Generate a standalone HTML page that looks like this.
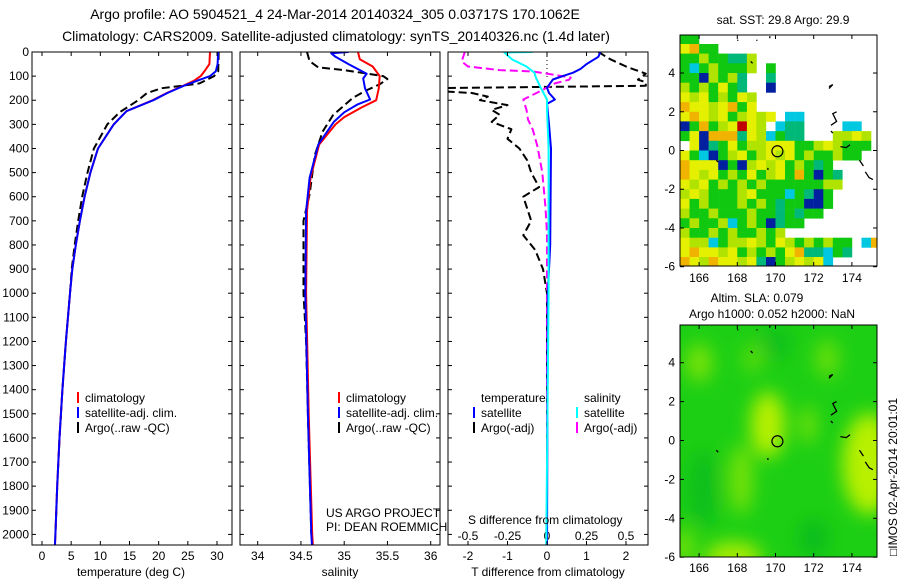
<!DOCTYPE html>
<html><head><meta charset="utf-8"><style>
body{margin:0;background:#fff}
svg{display:block;font-family:"Liberation Sans",sans-serif}
</style></head><body>
<svg id="fig" width="900" height="580" viewBox="0 0 900 580">
<defs>
<clipPath id="c1"><rect x="32" y="52" width="200" height="493"/></clipPath>
<clipPath id="c2"><rect x="240" y="52" width="200" height="493"/></clipPath>
<clipPath id="c3"><rect x="448" y="52" width="200" height="493"/></clipPath>
<clipPath id="cm1"><rect x="680" y="35" width="197" height="231"/></clipPath>
<clipPath id="cm2"><rect x="680" y="325" width="197" height="232"/></clipPath>
<filter id="blur" x="-50%" y="-50%" width="200%" height="200%"><feGaussianBlur stdDeviation="9"/></filter>
</defs>
<text x="335" y="19" font-size="14" text-anchor="middle">Argo profile: AO 5904521_4 24-Mar-2014 20140324_305 0.03717S 170.1062E</text>
<text x="336" y="41" font-size="14" text-anchor="middle">Climatology: CARS2009. Satellite-adjusted climatology: synTS_20140326.nc (1.4d later)</text>
<g id="axes"></g>
<g id="p1" clip-path="url(#c1)"></g>
<g id="p2" clip-path="url(#c2)"></g>
<g id="p3" clip-path="url(#c3)"></g>
<g id="m1" clip-path="url(#cm1)"></g>
<g id="m2" clip-path="url(#cm2)"></g>
<g id="frames"></g>
<g id="legends">
 <g font-size="12">
  <line x1="78" y1="392" x2="78" y2="403" stroke="#f00" stroke-width="2"/><text x="85" y="402">climatology</text>
  <line x1="78" y1="407" x2="78" y2="418" stroke="#00f" stroke-width="2"/><text x="85" y="417">satellite-adj. clim.</text>
  <line x1="78" y1="422" x2="78" y2="433" stroke="#000" stroke-width="2"/><text x="85" y="432">Argo(..raw -QC)</text>
 </g>
 <g font-size="12">
  <line x1="339" y1="392" x2="339" y2="403" stroke="#f00" stroke-width="2"/><text x="346" y="402">climatology</text>
  <line x1="339" y1="407" x2="339" y2="418" stroke="#00f" stroke-width="2"/><text x="346" y="417">satellite-adj. clim.</text>
  <line x1="339" y1="422" x2="339" y2="433" stroke="#000" stroke-width="2"/><text x="346" y="432">Argo(..raw -QC)</text>
 </g>
 <g font-size="12">
  <text x="481" y="402">temperature</text><text x="584" y="402">salinity</text>
  <line x1="474" y1="407" x2="474" y2="418" stroke="#00f" stroke-width="2"/><text x="481" y="417">satellite</text>
  <line x1="474" y1="422" x2="474" y2="433" stroke="#000" stroke-width="2"/><text x="481" y="432">Argo(-adj)</text>
  <line x1="577" y1="407" x2="577" y2="418" stroke="#0ff" stroke-width="2"/><text x="584" y="417">satellite</text>
  <line x1="577" y1="422" x2="577" y2="433" stroke="#f0f" stroke-width="2"/><text x="584" y="432">Argo(-adj)</text>
 </g>
 <text x="326" y="517" font-size="12">US ARGO PROJECT</text>
 <text x="326" y="531" font-size="12">PI: DEAN ROEMMICH</text>
 <text x="468" y="524" font-size="12">S difference from climatology</text>
 <text x="131" y="576" font-size="12" text-anchor="middle">temperature (deg C)</text>
 <text x="340" y="576" font-size="12" text-anchor="middle">salinity</text>
 <text x="548" y="576" font-size="12" text-anchor="middle">T difference from climatology</text>
 <text x="783" y="24" font-size="12" text-anchor="middle">sat. SST: 29.8 Argo: 29.9</text>
 <text x="757" y="302" font-size="12" text-anchor="middle">Altim. SLA: 0.079</text>
 <text x="772" y="318" font-size="12" text-anchor="middle">Argo h1000: 0.052 h2000: NaN</text>
 <text transform="translate(897,556) rotate(-90)" font-size="12">□IMOS 02-Apr-2014 20:01:01</text>
</g>
</svg>
<script>
// ---- profile data (depth m : value) ----
const depthT = [0,50,80,100,120,140,170,200,245,300,400,500,600,700,800,900,1000,1200,1400,1600,1800,2000,2060];
const tempSat = [30.2,30.1,29.8,28.8,26.5,24.3,21.5,19.1,14.5,12.3,9.6,8.3,7.3,6.5,5.8,5.2,4.8,4.1,3.5,3.0,2.6,2.3,2.2];
const depthTC = [0,50,75,100,120,140,170,200,245,300,400,500,600,700,800,900,1000,1200,1400,1600,1800,2000,2060];
const tempClim = [28.8,28.7,28.0,27.2,26.0,24.2,21.4,19.0,14.5,12.3,9.6,8.3,7.3,6.5,5.8,5.2,4.8,4.1,3.5,3.0,2.6,2.3,2.2];
const depthTA = [0,80,100,130,140,150,170,200,250,300,400,500,600,700,800,900,1000,1200,1400,1600,1800,2000];
const tempArgo = [30.3,30.2,29.5,27.0,24.0,20.5,18.0,16.5,13.3,11.2,8.9,7.8,6.9,6.2,5.6,5.1,4.8,4.1,3.5,3.0,2.6,2.3];

const depthS = [0,5,20,50,90,110,150,197,218,250,290,384,522,660,1000,1500,2000,2060];
const salSat = [35.05,34.85,34.9,35.05,35.26,35.22,35.24,35.3,35.15,35.0,34.88,34.70,34.6,34.56,34.55,34.58,34.62,34.63];
const depthSC = [0,30,60,100,150,200,230,270,300,384,522,660,1000,1500,2000,2060];
const salClim = [35.16,35.18,35.33,35.41,35.40,35.37,35.2,35.0,34.9,34.71,34.61,34.57,34.56,34.59,34.63,34.64];
const depthSA = [0,38,64,75,100,112,134,160,190,262,330,428,590,700,1000,1200,1500,2000];
const salArgo = [34.57,34.6,34.7,35.0,35.45,35.5,35.41,35.25,35.1,34.87,34.75,34.66,34.6,34.53,34.53,34.56,34.58,34.62];

const depthDT = [0,20,50,70,86,100,114,148,170,197,215,300,400,800,1000,2060];
const dTsat = [1.35,1.3,1.0,0.85,0.66,0.4,0.15,0,0.05,0.2,0,0.05,0.1,0.08,0.02,0];
const depthDTA = [0,30,60,90,115,125,140,150,160,170,185,200,220,240,260,290,320,360,400,450,500,560,600,700,760,820,900,1000,2060];
const dTargo = [1.3,1.6,2.0,2.5,2.3,2.5,2.5,-3,-3,-1.9,-1.5,-1.7,-1.0,-1.4,-1.2,-1.4,-0.9,-1.0,-0.7,-0.5,-0.4,-0.2,-0.6,-0.4,-0.6,-0.3,-0.1,0,0];
const depthDS = [0,2,31,60,86,106,148,197,238,400,1000,2060];
const dSsat = [-0.09,-0.27,-0.22,-0.13,-0.08,-0.07,-0.04,0,0,0.01,0.01,-0.005];
const depthDSA = [0,39,60,75,81,95,106,115,130,168,197,240,280,322,392,500,640,750,2060];
const dSargo = [-0.52,-0.54,-0.5,-0.3,-0.09,0.05,0.15,0.14,0.05,-0.06,-0.15,-0.13,-0.12,-0.09,-0.06,-0.03,-0.01,0,0];

const depthTicks = [0,100,200,300,400,500,600,700,800,900,1000,1100,1200,1300,1400,1500,1600,1700,1800,1900,2000];
const tempTicks = [0,5,10,15,20,25,30];
const salTicks = [34,34.5,35,35.5,36];
const dTTicks = [-2,-1,0,1,2];
const dSTicks = [-0.5,-0.25,0,0.25,0.5];
const dSTickLabels = ['-0.5','-0.25','0','0.25','0.5'];

// ---- map data ----
const lonTicks = [166,168,170,172,174];
const latTicks = [4,2,0,-2,-4,-6];
const argoLon = [170.1];
const argoLat = [-0.04];
// SST grid: rows from lat 6 downward by 0.5, cols from lon 165 by 0.5
const sstRows = [
"GG...................",
"YOGG.................",
"GGLGGTTL.............",
"GCGLGGGL.G...........",
"GGBLGLT..T...........",
"LGLGYGT..B...........",
"YLYGLGYL.............",
"OYYLYOGY.............",
"YOYLYGLYLY.CC........",
"BGOGLYRYL.CTT....CC..",
"GYBOOOTYLCGTT...LLYL.",
".YBTGYGLLYYYGGLYLGGG.",
"YGCBGLYGLYLYGLGGLGG..",
"OYYYBGBLYLYGLGTG.....",
"OYLYGLGYGLYGOGBGT....",
"YLYGLGLGLGGGGGGLL....",
"LYLGGGLYGGGCGTBG.....",
"YGLGGGLGLGTGGBBG.....",
"LGGLGGGLGGTGTGG......",
"GLGGLCGLGBTGG........",
"LGGLGLGGLGL..........",
"YLLCGLLYLGYLGLGLGG.CO",
"YOYYLYGLGLGYOTTCGT...",
"OYLOYYLYTBGLYLYC....."];
const sstColors = {G:'#10c810',L:'#b0e400',Y:'#e4f000',O:'#f0b400',R:'#c00000',T:'#00b878',C:'#00c8e0',B:'#0020a0'};
// SLA field blobs: lon, lat, x-radius deg, y-radius deg, level(+light/-dark)
const blobLon = [169.6,168.2,171.7,174.9,166.0,172.7,168.8,167.8,165.2,172.0,166.2,170.0];
const blobLat = [0.8,-2.0,0.8,-1.2,4.0,4.2,4.2,-6.0,-5.5,-5.0,-2.5,5.0];
const blobRx = [0.9,0.6,0.4,1.4,0.7,0.6,0.5,1.5,0.5,0.8,0.8,0.8];
const blobRy = [1.7,1.8,1.0,2.6,1.0,1.0,0.8,0.8,1.0,1.0,2.0,0.8];
const blobLevel = [1,0.6,0.6,1,0.6,0.5,0.4,0.9,0.6,-0.6,-0.5,-0.5];
// coastline fragments (lon,lat pairs)
const coastLon = [[172.8,173.0,172.8],[173.2,173.0,173.2,172.9],[172.9,173.0],[173.4,173.7,173.9],[174.4,174.6],[174.7,174.9,175.1],[166.9,167.0],[169.6,169.6],[168.7,168.8],[168.0,168.05],[169.0,169.05],[169.7,169.7]];
const coastLat = [[3.3,3.4,3.2],[2.0,1.9,1.5,1.3],[1.0,0.9],[0.2,0.15,0.3],[-0.5,-0.8],[-1.1,-1.4,-1.5],[-0.5,-0.6],[-0.9,-1.0],[4.6,4.5],[5.7,5.68],[5.7,5.68],[5.9,5.8]];

// ---- scales ----
const yD = d => 52 + d*0.2412;
const x1 = t => 42 + t*5.833;
const x2 = s => 257.7 + (s-34)*86.5;
const x3t = t => 547 + t*39.5;
const x3s = s => 547 + s*158;
const mx = lon => 680 + (lon-165)*19.1;
const my1 = lat => 150.5 - lat*19.37;
const my2 = lat => 440.5 - lat*19.45;

const NS='http://www.w3.org/2000/svg';
function mk(tag, attrs, parent){const e=document.createElementNS(NS,tag);for(const k in attrs)e.setAttribute(k,attrs[k]);parent.appendChild(e);return e;}
function prof(g, xs, ds, xf, color, dash, name){
  const pts = xs.map((v,i)=>xf(v).toFixed(1)+','+yD(ds[i]).toFixed(1)).join(' ');
  const p = mk('polyline',{points:pts,fill:'none',stroke:color,'stroke-width':2,'stroke-dasharray':dash||'none','stroke-linejoin':'round'},g);
  
  
}
const axes=document.getElementById('axes'), frames=document.getElementById('frames');
// panels frames & ticks
[[32,'panel-temperature'],[240,'panel-salinity'],[448,'panel-difference']].forEach(([px,nm])=>{
  const r=mk('rect',{x:px,y:52,width:200,height:493,fill:'none',stroke:'#000','stroke-width':1},frames);
  
  
  depthTicks.forEach(d=>{const y=yD(d);mk('line',{x1:px,y1:y,x2:px+4,y2:y,stroke:'#000'},frames);mk('line',{x1:px+196,y1:y,x2:px+200,y2:y,stroke:'#000'},frames);});
});
depthTicks.forEach(d=>{
  const t=mk('text',{x:29,y:yD(d)+4,'font-size':12,'text-anchor':'end'},axes);t.textContent=d;
  
  
});
function xticks(ticks, labels, xf, ly, topTicks){
  ticks.forEach((v,i)=>{const x=xf(v);
    mk('line',{x1:x,y1:545,x2:x,y2:541,stroke:'#000'},frames);
    if(topTicks) mk('line',{x1:x,y1:52,x2:x,y2:56,stroke:'#000'},frames);
    const t=mk('text',{x:x,y:ly,'font-size':12,'text-anchor':'middle'},axes);t.textContent=labels[i];
    
    
  });
}
xticks(tempTicks,tempTicks.map(String),x1,560,true);
xticks(salTicks,salTicks.map(String),x2,560,true);
xticks(dTTicks,dTTicks.map(String),x3t,560,false);
dSTicks.forEach((v,i)=>{const x=x3s(v);
  mk('line',{x1:x,y1:52,x2:x,y2:56,stroke:'#000'},frames);
  const t=mk('text',{x:x,y:540,'font-size':12,'text-anchor':'middle'},axes);t.textContent=dSTickLabels[i];
  
  
});
// profiles
const p1=document.getElementById('p1'),p2=document.getElementById('p2'),p3=document.getElementById('p3');
prof(p1,tempArgo,depthTA,x1,'#000','8 4','temp-argo-line');
prof(p1,tempClim,depthTC,x1,'#f00',null,'temp-climatology-line');
prof(p1,tempSat,depthT,x1,'#00f',null,'temp-satellite-line');
prof(p2,salArgo,depthSA,x2,'#000','8 4','sal-argo-line');
prof(p2,salClim,depthSC,x2,'#f00',null,'sal-climatology-line');
prof(p2,salSat,depthS,x2,'#00f',null,'sal-satellite-line');
mk('line',{x1:547,y1:52,x2:547,y2:80,stroke:'#000','stroke-dasharray':'1 3'},p3);
prof(p3,dTargo,depthDTA,x3t,'#000','8 4','t-diff-argo-line');
prof(p3,dSargo,depthDSA,x3s,'#f0f','8 4','s-diff-argo-line');
prof(p3,dTsat,depthDT,x3t,'#00f',null,'t-diff-satellite-line');
prof(p3,dSsat,depthDS,x3s,'#0ff',null,'s-diff-satellite-line');

// map 1 SST
const m1=document.getElementById('m1'),m2=document.getElementById('m2');
sstRows.forEach((row,i)=>{[...row].forEach((ch,j)=>{
  if(ch==='.')return;
  const lon=165+0.5*j, lat=6-0.5*i;
  const c=mk('rect',{x:mx(lon).toFixed(1),y:my1(lat).toFixed(1),width:9.8,height:10,fill:sstColors[ch]},m1);
  
  
});});
// map 2 SLA
const bg=mk('rect',{x:680,y:325,width:197,height:232,fill:'#1ccf14'},m2);


const bl=mk('g',{filter:'url(#blur)'},m2);
blobLon.forEach((lon,i)=>{
  const lv=blobLevel[i];
  const col = lv>0 ? '#b8f000' : '#00b020';
  const e=mk('ellipse',{cx:mx(lon),cy:my2(blobLat[i]),rx:blobRx[i]*19.1,ry:blobRy[i]*19.45,fill:col,'fill-opacity':Math.abs(lv)},bl);
  
  
});
// coasts + argo marker in both maps
[[m1,my1],[m2,my2]].forEach(([g,myf],k)=>{
  coastLon.forEach((ls,i)=>{
    const pts=ls.map((lo,n)=>mx(lo).toFixed(1)+','+myf(coastLat[i][n]).toFixed(1)).join(' ');
    const c=mk('polyline',{points:pts,fill:'none',stroke:'#000','stroke-width':1.3},g);
    
    
  });
  argoLon.forEach((lo,i)=>{
    const c=mk('circle',{cx:mx(lo),cy:myf(argoLat[i]),r:5.5,fill:'none',stroke:'#000','stroke-width':1.2},g);
    
    
  });
});
// map frames & ticks
[[35,266,my1,282,'sst-map'],[325,557,my2,572,'sla-map']].forEach(([top,bot,myf,ly,nm])=>{
  const r=mk('rect',{x:680,y:top,width:197,height:bot-top,fill:'none',stroke:'#000'},frames);
  
  
  lonTicks.forEach(lo=>{const x=mx(lo);
    mk('line',{x1:x,y1:bot,x2:x,y2:bot-4,stroke:'#000'},frames);mk('line',{x1:x,y1:top,x2:x,y2:top+4,stroke:'#000'},frames);
    const t=mk('text',{x:x,y:ly,'font-size':12,'text-anchor':'middle'},axes);t.textContent=lo;
    
    
  });
  latTicks.forEach(la=>{const y=myf(la);
    mk('line',{x1:680,y1:y,x2:684,y2:y,stroke:'#000'},frames);mk('line',{x1:873,y1:y,x2:877,y2:y,stroke:'#000'},frames);
    const t=mk('text',{x:675,y:y+4,'font-size':12,'text-anchor':'end'},axes);t.textContent=la;
    
    
  });
});
</script>
</body></html>
